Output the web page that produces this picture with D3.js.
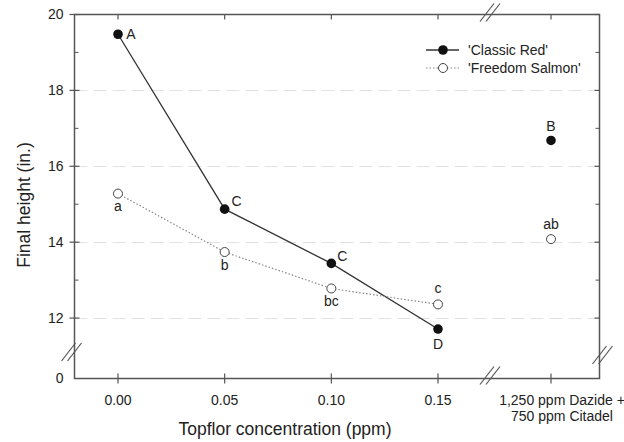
<!DOCTYPE html>
<html>
<head>
<meta charset="utf-8">
<script src="https://cdn.jsdelivr.net/npm/d3@7"></script>
<style>
  body { margin: 0; background: #fff; }
  text { font-family: "Liberation Sans", Arial, sans-serif; fill: #222; }
</style>
</head>
<body>
<script>
var categories = ["0.00", "0.05", "0.10", "0.15", "1,250 ppm Dazide +|750 ppm Citadel"];
var classicRed = [19.48, 14.87, 13.44, 11.71, 16.68];
var classicLetters = ["A", "C", "C", "D", "B"];
var freedomSalmon = [15.28, 13.74, 12.78, 12.36, 14.08];
var salmonLetters = ["a", "b", "bc", "c", "ab"];
var yTicks = [0, 12, 14, 16, 18, 20];
var yMinor = [13, 15, 17, 19];
var gridVals = [12, 14, 16, 18];

var W = 624, H = 442;
var pLeft = 74.5, pRight = 599.5, pTop = 14.5, pBottom = 378.5;
var axisColor = "#555";

var svg = d3.select("body").append("svg").attr("width", W).attr("height", H);

// broken scales
var x = d3.scaleLinear().domain([0, 3, 4]).range([118, 438, 551]);
var y = d3.scaleLinear().domain([0, 11, 20]).range([pBottom, 356, pTop]);

// grid
svg.selectAll(".grid").data(gridVals).enter().append("line")
    .attr("x1", pLeft).attr("x2", pRight)
    .attr("y1", function(d) { return Math.round(y(d)) + 0.5; })
    .attr("y2", function(d) { return Math.round(y(d)) + 0.5; })
    .style("stroke", "#e2e2e2").style("stroke-dasharray", "13,6");

// frame
svg.append("rect").attr("x", pLeft).attr("y", pTop)
    .attr("width", pRight - pLeft).attr("height", pBottom - pTop)
    .style("fill", "none").style("stroke", axisColor).style("stroke-width", 1.5);

// y ticks
var yg = svg.append("g");
yTicks.forEach(function(v) {
    var yy = y(v);
    if (v > 0) {
        yg.append("line").attr("x1", pLeft - 5).attr("x2", pLeft + 5).attr("y1", yy).attr("y2", yy)
            .style("stroke", axisColor).style("stroke-width", 1.2);
        yg.append("line").attr("x1", pRight - 5).attr("x2", pRight).attr("y1", yy).attr("y2", yy)
            .style("stroke", axisColor).style("stroke-width", 1.2);
    }
    yg.append("text").attr("x", pLeft - 11).attr("y", yy).attr("dy", "0.35em")
        .attr("text-anchor", "end").style("font-size", "14px").text(v);
});
yMinor.forEach(function(v) {
    var yy = y(v);
    yg.append("line").attr("x1", pLeft).attr("x2", pLeft + 4).attr("y1", yy).attr("y2", yy)
        .style("stroke", axisColor);
    yg.append("line").attr("x1", pRight - 4).attr("x2", pRight).attr("y1", yy).attr("y2", yy)
        .style("stroke", axisColor);
});

// x ticks and labels
categories.forEach(function(c, i) {
    var xx = x(i);
    svg.append("line").attr("x1", xx).attr("x2", xx).attr("y1", pBottom - 5).attr("y2", pBottom + 5)
        .style("stroke", axisColor).style("stroke-width", 1.2);
    svg.append("line").attr("x1", xx).attr("x2", xx).attr("y1", pTop).attr("y2", pTop + 5)
        .style("stroke", axisColor).style("stroke-width", 1.2);
    var parts = c.split("|");
    var lx = parts.length > 1 ? xx + 11 : xx;
    var t = svg.append("text").attr("x", lx).attr("y", 405).attr("text-anchor", "middle")
        .style("font-size", "14px");
    parts.forEach(function(p, k) {
        t.append("tspan").attr("x", lx).attr("dy", k === 0 ? 0 : 16).text(p);
    });
});

// break marks
function breakMark(cx, cy) {
    var g = svg.append("g");
    [-3, 3].forEach(function(o) {
        g.append("line").attr("x1", cx + o - 7).attr("y1", cy + 9).attr("x2", cx + o + 7).attr("y2", cy - 9)
            .style("stroke", axisColor).style("stroke-width", 1.2);
    });
}
breakMark(490, pBottom - 3);
breakMark(490, pTop - 2);
breakMark(pLeft - 3, 352);
breakMark(pRight + 3, 355);

// lines
var line = d3.line().x(function(d, i) { return x(i); }).y(function(d) { return y(d); });
svg.append("path").datum(classicRed.slice(0, 4)).attr("d", line)
    .style("fill", "none").style("stroke", "#333").style("stroke-width", 1.3);
svg.append("path").datum(freedomSalmon.slice(0, 4)).attr("d", line)
    .style("fill", "none").style("stroke", "#888").style("stroke-width", 1.2).style("stroke-dasharray", "1.5,2");

// markers
svg.selectAll(".sal").data(freedomSalmon).enter().append("circle")
    .attr("cx", function(d, i) { return x(i); }).attr("cy", function(d) { return y(d); })
    .attr("r", 4.5).style("fill", "#fff").style("stroke", "#444").style("stroke-width", 1);
svg.selectAll(".red").data(classicRed).enter().append("circle")
    .attr("cx", function(d, i) { return x(i); }).attr("cy", function(d) { return y(d); })
    .attr("r", 4.8).style("fill", "#111");

// letters
var redOff = [[13, 0], [12, -8], [11, -7], [0, 15], [0, -14]];
classicLetters.forEach(function(l, i) {
    svg.append("text").attr("x", x(i) + redOff[i][0]).attr("y", y(classicRed[i]) + redOff[i][1])
        .attr("dy", "0.35em").attr("text-anchor", "middle").style("font-size", "14px").text(l);
});
var salOff = [13, 13, 13, -16, -15];
salmonLetters.forEach(function(l, i) {
    svg.append("text").attr("x", x(i)).attr("y", y(freedomSalmon[i]) + salOff[i])
        .attr("dy", "0.35em").attr("text-anchor", "middle").style("font-size", "14px").text(l);
});

// legend
var lg = svg.append("g");
lg.append("line").attr("x1", 426).attr("x2", 459).attr("y1", 50).attr("y2", 50)
    .style("stroke", "#333").style("stroke-width", 1.3);
lg.append("circle").attr("cx", 443).attr("cy", 50).attr("r", 4.8).style("fill", "#111");
lg.append("text").attr("x", 468).attr("y", 50).attr("dy", "0.35em").style("font-size", "14px").text("'Classic Red'");
lg.append("line").attr("x1", 426).attr("x2", 459).attr("y1", 68).attr("y2", 68)
    .style("stroke", "#888").style("stroke-width", 1.2).style("stroke-dasharray", "1.5,2");
lg.append("circle").attr("cx", 443).attr("cy", 68).attr("r", 4.5).style("fill", "#fff").style("stroke", "#444");
lg.append("text").attr("x", 468).attr("y", 68).attr("dy", "0.35em").style("font-size", "14px").text("'Freedom Salmon'");

// axis titles
svg.append("text").attr("x", 285).attr("y", 435).attr("text-anchor", "middle")
    .style("font-size", "17.5px").text("Topflor concentration (ppm)");
svg.append("text").attr("transform", "translate(30,205) rotate(-90)")
    .attr("text-anchor", "middle").style("font-size", "17.5px").text("Final height (in.)");
</script>
</body>
</html>
